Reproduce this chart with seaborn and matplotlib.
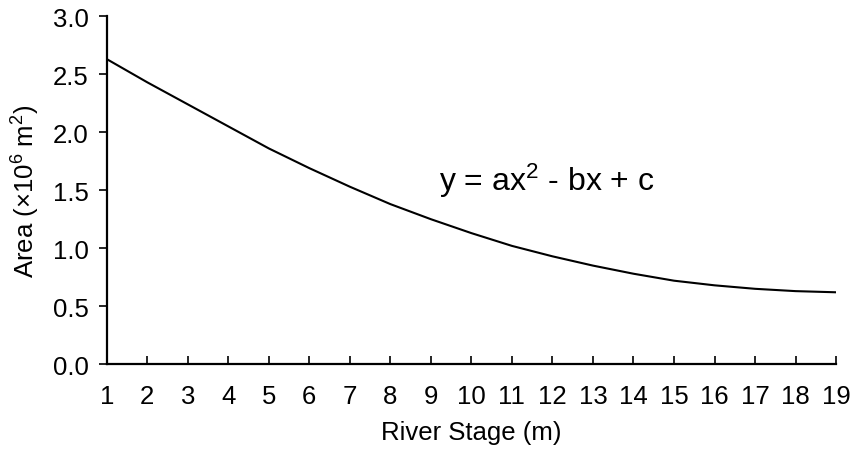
import matplotlib
matplotlib.use("Agg")
import matplotlib.pyplot as plt
import seaborn as sns
import pandas as pd

# river stage (m) and wetted area (x10^6 m^2)
stage = [1, 2, 3, 4, 5, 6, 7, 8, 9, 10, 11, 12, 13, 14, 15, 16, 17, 18, 19]
area = [2.63, 2.43, 2.24, 2.05, 1.86, 1.69, 1.53, 1.38, 1.25, 1.13,
        1.02, 0.93, 0.85, 0.78, 0.72, 0.68, 0.65, 0.63, 0.62]
y_ticks = [0.0, 0.5, 1.0, 1.5, 2.0, 2.5, 3.0]

sns.set_style("ticks")
plt.rcParams['font.family'] = ['Liberation Sans', 'DejaVu Sans']
plt.rcParams['mathtext.fontset'] = 'custom'
plt.rcParams['mathtext.rm'] = 'Liberation Sans'
plt.rcParams['mathtext.it'] = 'Liberation Sans'

df = pd.DataFrame({'stage': stage, 'area': area})

fig = plt.figure(figsize=(8.54, 4.52), dpi=100)
ax = fig.add_axes([0.125, 0.192, 0.854, 0.770])
sns.lineplot(data=df, x='stage', y='area', color='black', linewidth=1.5, ax=ax)

ax.set_xlim(1, 19)
ax.set_ylim(0, 3.0)
ax.set_xticks(stage)
ax.set_yticks(y_ticks)
ax.set_yticklabels([f'{t:.1f}' for t in y_ticks])
ax.tick_params(axis='y', direction='out', length=6, width=1.2, labelsize=18.5, colors='black', pad=7)
ax.tick_params(axis='x', direction='in', length=6, width=1.2, labelsize=18.5, colors='black', pad=14)
for s in ['left', 'bottom']:
    ax.spines[s].set_linewidth(1.6)
    ax.spines[s].set_color('black')
sns.despine(ax=ax)

ax.set_xlabel('River Stage (m)', fontsize=18.5, labelpad=9, color='black')
ax.set_ylabel(r'Area (×10$^{6}$ m$^{2}$)', fontsize=18.5, labelpad=8, color='black')

ax.text(9.2, 1.5, r'y = ax$^{2}$ - bx + c', fontsize=23, color='black')

fig.savefig('out.png', dpi=100)
